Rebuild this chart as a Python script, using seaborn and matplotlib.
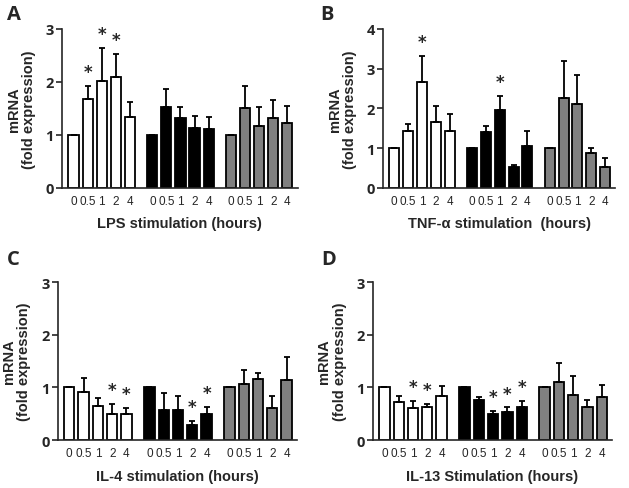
import numpy as np
import pandas as pd
import matplotlib
matplotlib.use("Agg")
import matplotlib.pyplot as plt
import seaborn as sns

sns.set_style("ticks")
plt.rcParams["font.family"] = ["DejaVu Sans"]

# time points (hours) and cell groups
time_labels = ["0", "0.5", "1", "2", "4"]
groups = ["white", "black", "gray"]
group_colors = {"white": "#ffffff", "black": "#000000", "gray": "#808080"}

# panel A - LPS
lps_mean = [[1.0, 1.68, 2.01, 2.10, 1.33],
            [1.0, 1.53, 1.31, 1.13, 1.11],
            [1.0, 1.50, 1.16, 1.31, 1.22]]
lps_top = [[1.0, 1.93, 2.64, 2.53, 1.62],
           [1.0, 1.86, 1.53, 1.36, 1.33],
           [1.0, 1.92, 1.53, 1.66, 1.55]]
lps_star = [[0, 1, 1, 1, 0], [0, 0, 0, 0, 0], [0, 0, 0, 0, 0]]

# panel B - TNF-alpha
tnf_mean = [[1.0, 1.43, 2.66, 1.65, 1.42],
            [1.0, 1.40, 1.96, 0.52, 1.04],
            [1.0, 2.25, 2.10, 0.87, 0.51]]
tnf_top = [[1.0, 1.60, 3.32, 2.07, 1.85],
           [1.0, 1.55, 2.31, 0.58, 1.43],
           [1.0, 3.20, 2.85, 0.99, 0.75]]
tnf_star = [[0, 0, 1, 0, 0], [0, 0, 1, 0, 0], [0, 0, 0, 0, 0]]

# panel C - IL-4
il4_mean = [[1.0, 0.91, 0.64, 0.49, 0.49],
            [1.0, 0.58, 0.58, 0.29, 0.50],
            [1.0, 1.07, 1.16, 0.60, 1.15]]
il4_top = [[1.0, 1.18, 0.80, 0.68, 0.61],
           [1.0, 0.90, 0.83, 0.37, 0.63],
           [1.0, 1.34, 1.27, 0.84, 1.58]]
il4_star = [[0, 0, 0, 1, 1], [0, 0, 0, 1, 1], [0, 0, 0, 0, 0]]

# panel D - IL-13
il13_mean = [[1.0, 0.73, 0.61, 0.62, 0.84],
             [1.0, 0.76, 0.50, 0.54, 0.63],
             [1.0, 1.11, 0.86, 0.63, 0.81]]
il13_top = [[1.0, 0.84, 0.74, 0.68, 1.02],
            [1.0, 0.81, 0.56, 0.62, 0.75],
            [1.0, 1.47, 1.21, 0.77, 1.05]]
il13_star = [[0, 0, 1, 1, 0], [0, 0, 1, 1, 1], [0, 0, 0, 0, 0]]

GROUP_STEP = 5.6


def make_frame(means, tops, stars):
    rows = []
    for g, name in enumerate(groups):
        for i, t in enumerate(time_labels):
            rows.append({
                "pos": g * GROUP_STEP + i,
                "group": name,
                "time": t,
                "mean": means[g][i],
                "top": tops[g][i],
                "star": stars[g][i],
            })
    return pd.DataFrame(rows)


def draw_panel(ax, df, xlabel, ymax):
    sns.barplot(
        data=df, x="pos", y="mean", hue="group",
        palette=group_colors, native_scale=True, dodge=False,
        width=0.72, edgecolor="black", linewidth=1.3,
        legend=False, ax=ax, errorbar=None
    )

    err = df["top"] - df["mean"]
    ax.errorbar(
        df["pos"], df["mean"],
        yerr=[np.zeros(len(df)), err],
        fmt="none", ecolor="black", elinewidth=1.3,
        capsize=2.2, capthick=1.3
    )

    for _, r in df[df["star"] == 1].iterrows():
        ax.annotate(
            "*", (r["pos"], r["top"]), xytext=(0, 10),
            textcoords="offset points", ha="center", va="center",
            fontsize=12, fontweight="bold"
        )

    ax.set_xlim(df["pos"].min() - 0.8, df["pos"].max() + 0.72)
    ax.set_ylim(0, ymax)
    ax.set_yticks(range(0, ymax + 1))
    ax.set_yticklabels([str(v) for v in range(0, ymax + 1)],
                       fontsize=10.5, fontweight="bold",
                       family="Open Sans")
    ax.set_xticks(df["pos"])
    ax.set_xticklabels(df["time"], fontsize=8.5, family="Liberation Sans")
    ax.tick_params(axis="x", length=0, pad=5)
    ax.tick_params(axis="y", length=4, width=1.2, pad=2)

    ax.set_ylabel("mRNA\n(fold expression)", fontsize=10.5,
                  fontweight="bold", family="Liberation Sans",
                  labelpad=7, linespacing=1.1)
    ax.set_xlabel(xlabel, fontsize=10.5, fontweight="bold",
                  family="Liberation Sans", labelpad=7)

    sns.despine(ax=ax)
    for s in ["left", "bottom"]:
        ax.spines[s].set_linewidth(1.2)


fig = plt.figure(figsize=(6.29, 4.89), dpi=100)

ax_a = fig.add_axes([0.099, 0.614, 0.374, 0.325])
ax_b = fig.add_axes([0.609, 0.614, 0.369, 0.325])
ax_c = fig.add_axes([0.092, 0.098, 0.380, 0.323])
ax_d = fig.add_axes([0.593, 0.098, 0.380, 0.323])

draw_panel(ax_a, make_frame(lps_mean, lps_top, lps_star),
           "LPS stimulation (hours)", 3)
draw_panel(ax_b, make_frame(tnf_mean, tnf_top, tnf_star),
           "TNF-\u03b1 stimulation  (hours)", 4)
draw_panel(ax_c, make_frame(il4_mean, il4_top, il4_star),
           "IL-4 stimulation (hours)", 3)
draw_panel(ax_d, make_frame(il13_mean, il13_top, il13_star),
           "IL-13 Stimulation (hours)", 3)

for letter, x, y in [("A", 0.011, 0.969), ("B", 0.509, 0.969),
                     ("C", 0.011, 0.468), ("D", 0.510, 0.468)]:
    fig.text(x, y, letter, fontsize=14.5, fontweight="bold",
             family="Open Sans", ha="left", va="center")

fig.savefig("out.png", dpi=100)
plt.close(fig)
